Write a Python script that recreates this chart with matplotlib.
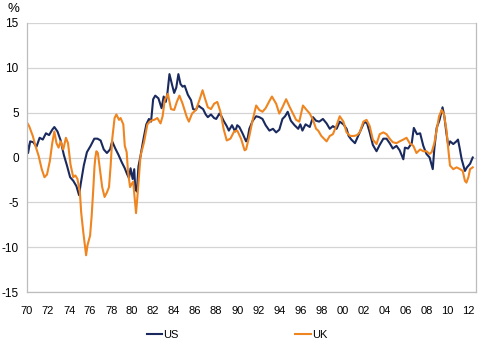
import matplotlib
matplotlib.use('Agg')
import matplotlib.pyplot as plt

# readings (decimal year, %)
us_t = [1970.0, 1970.1, 1970.3, 1970.6, 1970.9, 1971.2, 1971.5, 1971.8, 1972.1, 1972.4,
        1972.6, 1972.9, 1973.2, 1973.5, 1973.8, 1974.1, 1974.4, 1974.7, 1974.95, 1975.1,
        1975.4, 1975.7, 1976.05, 1976.4, 1976.7, 1977.0, 1977.3, 1977.6, 1977.9, 1978.1,
        1978.4, 1978.7, 1979.0, 1979.3, 1979.5, 1979.7, 1979.85, 1980.05, 1980.2, 1980.3,
        1980.45, 1980.6, 1980.8, 1981.1, 1981.35, 1981.6, 1981.8, 1982.0, 1982.2, 1982.5,
        1982.8, 1983.0, 1983.2, 1983.35, 1983.55, 1983.8, 1984.0, 1984.2, 1984.4, 1984.6,
        1984.8, 1985.0, 1985.3, 1985.6, 1985.8, 1986.05, 1986.3, 1986.5, 1986.75, 1987.0,
        1987.2, 1987.5, 1987.8, 1988.0, 1988.3, 1988.5, 1988.7, 1989.0, 1989.2, 1989.5,
        1989.8, 1990.0, 1990.2, 1990.5, 1990.84, 1991.0, 1991.15, 1991.47, 1991.8, 1992.1,
        1992.4, 1992.7, 1993.06, 1993.4, 1993.7, 1994.0, 1994.3, 1994.55, 1994.8, 1995.1,
        1995.45, 1995.8, 1996.0, 1996.2, 1996.5, 1996.9, 1997.2, 1997.5, 1997.8, 1998.15,
        1998.5, 1998.8, 1999.1, 1999.45, 1999.75, 2000.1, 2000.4, 2000.6, 2000.85, 2001.2,
        2001.5, 2001.8, 2002.1, 2002.35, 2002.6, 2002.9, 2003.25, 2003.55, 2003.9, 2004.2,
        2004.5, 2004.8, 2005.15, 2005.45, 2005.8, 2005.95, 2006.25, 2006.6, 2006.8, 2007.1,
        2007.4, 2007.55, 2007.7, 2008.0, 2008.3, 2008.6, 2008.75, 2008.97, 2009.25, 2009.53,
        2009.7, 2009.9, 2010.08, 2010.25, 2010.55, 2010.85, 2011.0, 2011.15, 2011.35, 2011.66,
        2011.85, 2012.15, 2012.4]
us_v = [1.6, 0.5, 1.8, 1.7, 1.2, 2.2, 2.0, 2.7, 2.5, 3.1,
        3.4, 2.9, 1.9, 0.3, -0.9, -2.2, -2.6, -3.2, -4.2, -3.0,
        -0.9, 0.6, 1.3, 2.1, 2.1, 1.9, 0.9, 0.5, 0.9, 1.8,
        1.0, 0.3, -0.5, -1.2, -1.8, -2.3, -1.2, -2.4, -1.3, -3.5,
        -3.8, -1.0, 0.2, 2.2, 3.7, 4.3, 4.0, 6.5, 6.9, 6.6,
        5.5, 6.8, 6.2, 7.1, 9.3, 8.1, 7.2, 7.8, 9.3, 8.2,
        7.9, 8.0, 7.0, 6.4, 5.4, 5.3, 5.8, 5.6, 5.4, 4.8,
        4.5, 4.8, 4.4, 4.3, 4.9, 4.6, 4.1, 3.5, 3.0, 3.6,
        2.9, 3.6, 3.4, 2.7, 1.8, 2.2, 3.2, 4.1, 4.6, 4.5,
        4.3, 3.6, 3.0, 3.2, 2.8, 3.1, 4.3, 4.6, 5.1, 4.1,
        3.6, 3.2, 3.7, 3.0, 3.7, 3.4, 4.5, 4.1, 4.0, 4.3,
        3.8, 3.2, 3.5, 3.2, 4.0, 3.7, 3.2, 2.4, 2.0, 1.6,
        2.4, 3.2, 4.0, 3.8, 2.8, 1.4, 0.7, 1.4, 2.1, 2.1,
        1.6, 1.0, 1.3, 0.8, -0.2, 1.1, 1.0, 1.6, 3.3, 2.6,
        2.7, 2.0, 1.3, 0.4, 0.0, -1.3, 1.0, 3.3, 4.2, 5.6,
        4.6, 2.7, 1.3, 1.8, 1.5, 1.8, 2.0, 1.1, -0.2, -1.5,
        -1.1, -0.7, 0.0]

uk_t = [1970.0, 1970.2, 1970.33, 1970.55, 1970.8, 1971.1, 1971.4, 1971.66, 1971.9, 1972.17,
        1972.4, 1972.6, 1972.8, 1973.0, 1973.2, 1973.45, 1973.7, 1973.9, 1974.14, 1974.4,
        1974.6, 1974.8, 1975.03, 1975.15, 1975.35, 1975.5, 1975.62, 1975.75, 1976.0, 1976.15,
        1976.3, 1976.42, 1976.5, 1976.6, 1976.74, 1976.9, 1977.15, 1977.38, 1977.6, 1977.8,
        1977.95, 1978.1, 1978.33, 1978.5, 1978.75, 1978.9, 1979.16, 1979.3, 1979.48, 1979.6,
        1979.8, 1979.93, 1980.1, 1980.25, 1980.37, 1980.5, 1980.65, 1980.8, 1981.13, 1981.45,
        1981.77, 1982.1, 1982.4, 1982.7, 1982.9, 1983.1, 1983.4, 1983.7, 1984.0, 1984.25,
        1984.5, 1984.8, 1985.2, 1985.4, 1985.7, 1986.07, 1986.4, 1986.7, 1986.9, 1987.2,
        1987.5, 1987.8, 1988.1, 1988.4, 1988.7, 1989.0, 1989.35, 1989.7, 1990.0, 1990.36,
        1990.7, 1990.84, 1991.15, 1991.47, 1991.8, 1992.1, 1992.4, 1992.7, 1993.06, 1993.3,
        1993.7, 1994.0, 1994.3, 1994.65, 1995.0, 1995.3, 1995.6, 1995.9, 1996.25, 1996.6,
        1996.9, 1997.2, 1997.5, 1997.7, 1998.0, 1998.5, 1998.8, 1999.1, 1999.45, 1999.75,
        2000.1, 2000.4, 2000.75, 2001.1, 2001.4, 2001.65, 2002.0, 2002.3, 2002.6, 2002.9,
        2003.25, 2003.55, 2003.9, 2004.2, 2004.5, 2004.8, 2005.15, 2005.45, 2005.8, 2006.1,
        2006.4, 2006.75, 2007.05, 2007.4, 2007.7, 2008.0, 2008.3, 2008.5, 2008.75, 2008.97,
        2009.2, 2009.45, 2009.65, 2009.9, 2010.08, 2010.24, 2010.55, 2010.87, 2011.2, 2011.45,
        2011.66, 2011.8, 2011.99, 2012.15, 2012.4]
uk_v = [3.9, 3.5, 3.1, 2.4, 1.3, 0.2, -1.3, -2.2, -1.9, -0.4,
        1.6, 2.9, 1.6, 1.1, 1.8, 0.9, 2.2, 1.6, -0.8, -2.2,
        -2.0, -2.4, -3.9, -6.1, -8.3, -9.8, -10.9, -9.8, -8.7, -6.5,
        -3.6, -1.0, 0.0, 0.7, 0.5, -1.0, -3.3, -4.4, -3.9, -3.3,
        -1.0, 2.0, 4.4, 4.8, 4.2, 4.4, 3.7, 1.3, 0.6, -1.5,
        -3.3, -3.0, -2.7, -4.6, -6.2, -4.4, -2.1, 0.2, 1.7, 3.7,
        4.1, 4.2, 4.4, 3.8, 4.6, 6.4, 7.1, 5.4, 5.3, 6.2,
        6.9, 6.0, 4.5, 4.0, 4.9, 5.3, 6.4, 7.5, 6.7, 5.6,
        5.4, 6.0, 6.2, 5.1, 3.2, 1.9, 2.1, 2.9, 3.0, 2.1,
        0.8, 0.9, 2.4, 4.2, 5.8, 5.3, 5.1, 5.5, 6.3, 6.8,
        6.0, 4.9, 5.6, 6.5, 5.6, 4.9, 4.2, 4.0, 5.8, 5.3,
        4.9, 4.2, 3.2, 3.0, 2.4, 1.8, 2.4, 2.6, 3.6, 4.6,
        4.0, 2.8, 2.4, 2.4, 2.5, 2.8, 4.0, 4.2, 3.5, 2.0,
        1.5, 2.6, 2.8, 2.6, 2.1, 1.7, 1.6, 1.8, 2.0, 2.2,
        1.6, 1.3, 0.5, 0.9, 0.7, 0.7, 0.4, 0.6, 1.6, 3.1,
        4.6, 5.3, 4.9, 3.1, 0.9, -0.9, -1.3, -1.1, -1.3, -1.5,
        -2.6, -2.8, -2.2, -1.3, -1.1]

xtick_years = list(range(1970, 2013, 2))
xtick_labels = ['%02d' % (y % 100) for y in xtick_years]
yticks = [-15, -10, -5, 0, 5, 10, 15]

plt.rcParams['font.family'] = ['Liberation Sans Narrow', 'Liberation Sans', 'DejaVu Sans']

fig = plt.figure(figsize=(4.94, 3.5), dpi=100)
ax = fig.add_axes([0.0547, 0.1657, 0.909, 0.7686])

ax.plot(us_t, us_v, color='#1a2a5e', linewidth=1.5, label='US')
ax.plot(uk_t, uk_v, color='#ef8520', linewidth=1.5, label='UK')

ax.set_xlim(1970, 2012.72)
ax.set_ylim(-15, 15)
ax.set_yticks(yticks)
ax.set_yticklabels([str(v) for v in yticks], fontsize=8.5)
ax.set_xticks(xtick_years)
ax.set_xticklabels(xtick_labels, fontsize=8)
ax.tick_params(axis='both', length=0)
ax.tick_params(axis='x', pad=10)
ax.tick_params(axis='y', pad=6)

ax.grid(axis='y', color='#d4d4d4', linewidth=0.9)
ax.set_axisbelow(True)
for side in ['left', 'right', 'bottom']:
    ax.spines[side].set_color('#bdbdbd')
    ax.spines[side].set_linewidth(0.9)
ax.spines['top'].set_visible(False)

fig.text(0.016, 0.99, '%', fontsize=9.5, va='top')

fig.legend(loc='center', bbox_to_anchor=(0.48, 0.043), ncol=2, frameon=False,
           fontsize=8, handlelength=1.4, handletextpad=0.1, columnspacing=10.5)

fig.savefig('out.png', dpi=100)
